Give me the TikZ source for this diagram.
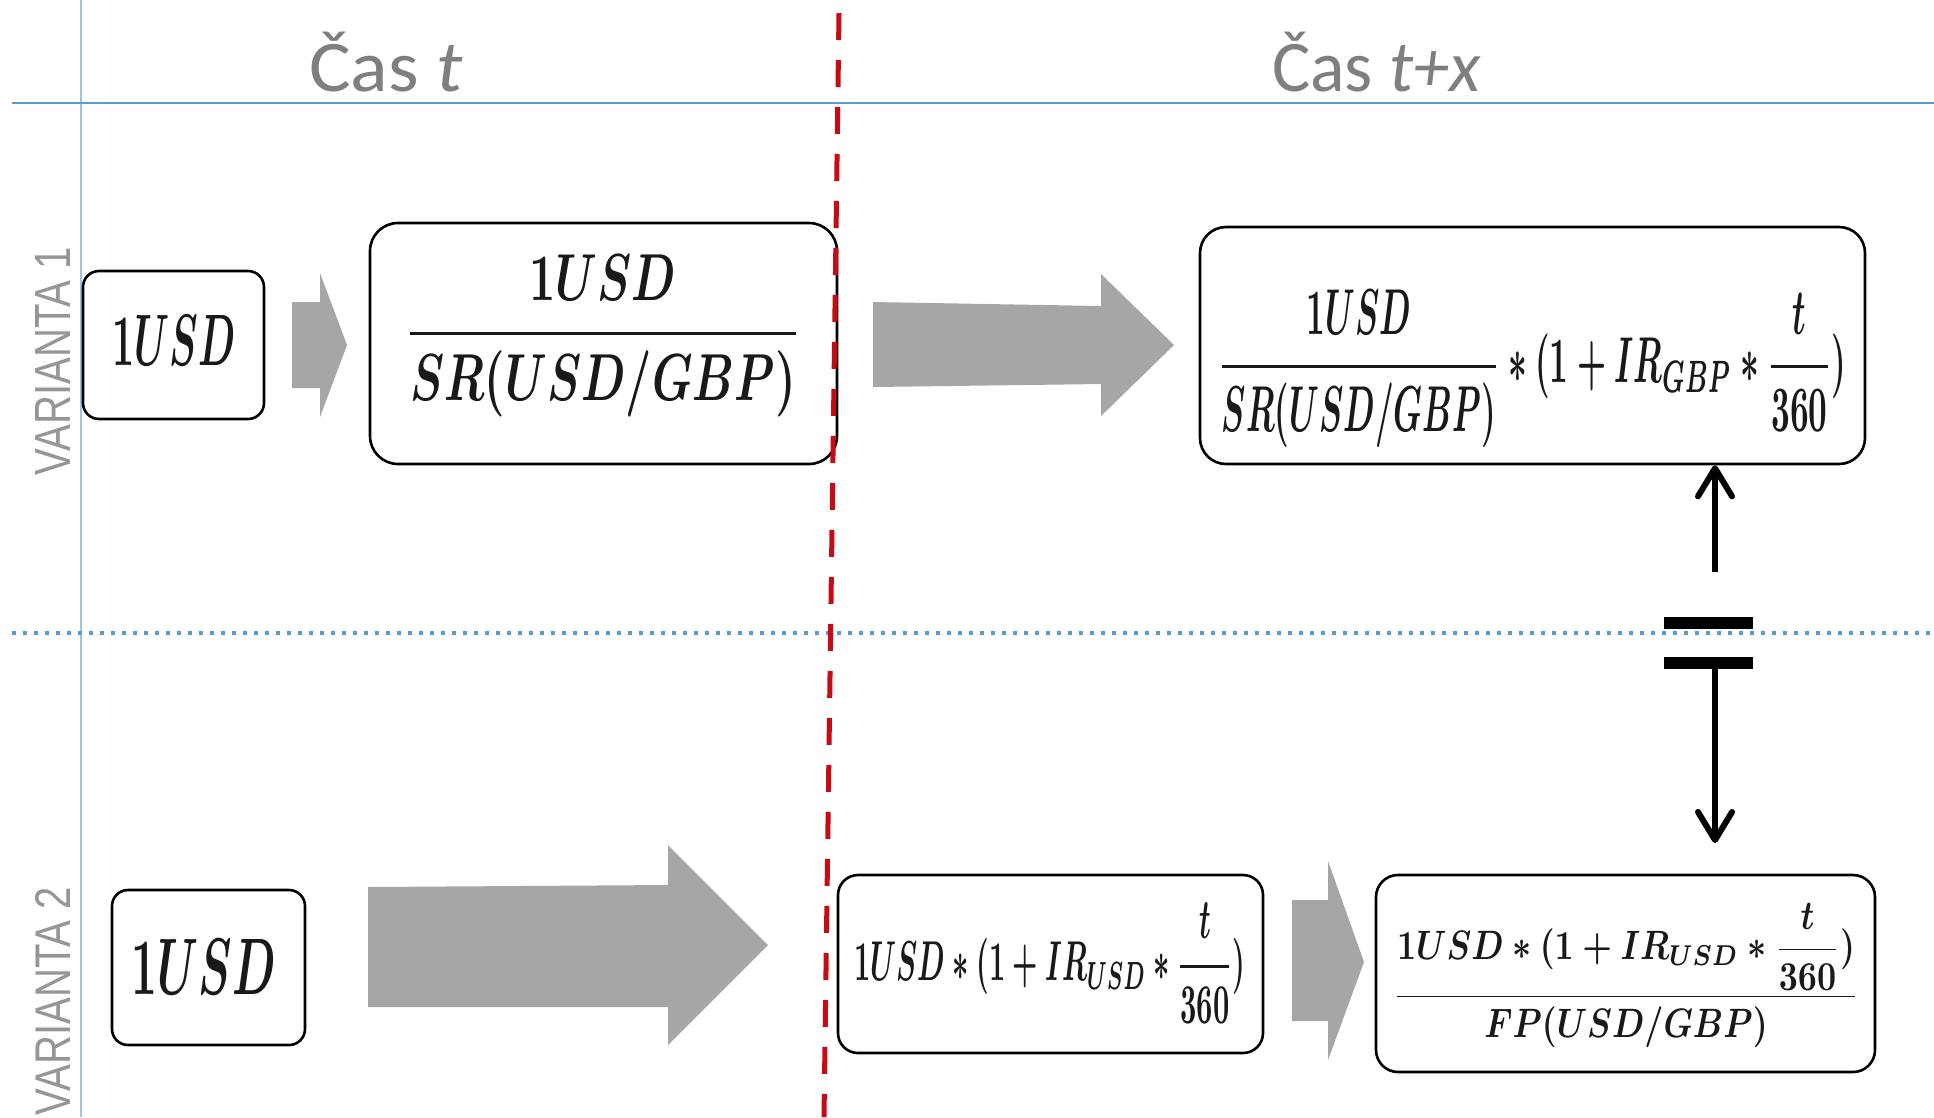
\documentclass[tikz,border=0pt]{standalone}
\usepackage{amsmath}
\usepackage{graphicx}
\usepackage{fontspec}
\newfontfamily\calib{Carlito}
\newfontfamily\arialf{Liberation Sans}
\usetikzlibrary{arrows.meta}
\newlength\pxu
\setlength\pxu{0.01cm}
\definecolor{axisblue}{RGB}{91,155,213}
\definecolor{lineblue}{RGB}{157,195,230}
\definecolor{cutred}{RGB}{200,10,20}
\definecolor{blockgray}{RGB}{166,166,166}
\definecolor{labelgray}{RGB}{127,127,127}
\definecolor{variantgray}{RGB}{150,150,150}
\definecolor{inkdark}{RGB}{25,25,25}
\begin{document}
\begin{tikzpicture}[x=0.01cm,y=-0.01cm,
  box/.style={draw=black, line width=2.6\pxu, rounded corners=20\pxu, fill=white, inner sep=0pt},
  formula/.style={inner sep=0pt, text=inkdark, font=\boldmath},
  heading/.style={inner sep=0pt, text=labelgray},
  variant/.style={inner sep=0pt, text=variantgray, rotate=90},
  blockarrow/.style={fill=blockgray},
  bar/.style={fill=black, inner sep=0pt, minimum width=89\pxu, minimum height=12\pxu},
  link/.style={line width=6\pxu, -{Straight Barb[length=0.28cm,width=0.34cm,round]}}]
\useasboundingbox (0,0) rectangle (1934,1117);
\fill[white] (0,0) rectangle (1934,1117);

% grid of the table
\draw[lineblue, line width=1.5\pxu] (81,0) -- (81,1117);
\draw[axisblue, line width=2\pxu] (12,102.5) -- (1934,102.5);
\draw[axisblue, line width=4\pxu, dash pattern=on 4.3\pxu off 6.7\pxu] (12,633) -- (1934,633);

% column headings
\node[heading] (tNow) at (386,62) {\resizebox*{154\pxu}{60\pxu}{\calib Čas \textit{t}}};
\node[heading] (tLater) at (1376.5,62) {\resizebox*{209\pxu}{60\pxu}{\calib Čas \textit{t+x}}};

% row labels
\node[variant] (v1) at (53,361) {\resizebox*{228\pxu}{35\pxu}{\arialf VARIANTA 1}};
\node[variant] (v2) at (53,1001) {\resizebox*{228\pxu}{35\pxu}{\arialf VARIANTA 2}};

% variant 1
\node[box, rounded corners=16\pxu, minimum width=181\pxu, minimum height=148\pxu] (boxA) at (173.5,345) {};
\node[formula] (fA) at (174,340) {\resizebox*{123\pxu}{50\pxu}{$1USD$}};
\node[box, rounded corners=28\pxu, minimum width=467\pxu, minimum height=241\pxu] (boxB) at (603.5,343.5) {};
\node[formula] (fB) at (603,336) {\resizebox*{396\pxu}{162\pxu}{$\dfrac{1USD}{SR(USD/GBP)}$}};
\node[box, rounded corners=26\pxu, minimum width=665\pxu, minimum height=237\pxu] (boxC) at (1532.5,345.5) {};
\node[formula] (fC) at (1532,369) {\resizebox*{628\pxu}{158\pxu}{$\dfrac{1USD}{SR(USD/GBP)}*(1+IR_{GBP}*\dfrac{t}{360})$}};

\fill[blockarrow] (292,302) -- (320,302) -- (320,273) -- (347,345) -- (320,417) -- (320,388) -- (292,388) -- cycle;
\fill[blockarrow] (873,302) -- (1101,306) -- (1101,274) -- (1174,345) -- (1101,416) -- (1101,384) -- (873,387) -- cycle;

% variant 2
\node[box, rounded corners=16\pxu, minimum width=193\pxu, minimum height=155\pxu] (boxD) at (208.5,967.5) {};
\node[formula] (fD) at (204,967) {\resizebox*{144\pxu}{55\pxu}{$1USD$}};
\node[box, minimum width=425\pxu, minimum height=178\pxu] (boxE) at (1050.5,964) {};
\node[formula] (fE) at (1050,963) {\resizebox*{391\pxu}{120\pxu}{$1USD*(1+IR_{USD}*\dfrac{t}{360})$}};
\node[box, rounded corners=22\pxu, minimum width=499\pxu, minimum height=197\pxu] (boxF) at (1625.5,973.5) {};
\node[formula] (fF) at (1626,975.5) {\resizebox*{466\pxu}{145\pxu}{$\dfrac{1USD*(1+IR_{USD}*\dfrac{t}{360})}{FP(USD/GBP)}$}};

\fill[blockarrow] (368,887) -- (668,885) -- (668,845) -- (768,945) -- (668,1045) -- (668,1007) -- (368,1007) -- cycle;
\fill[blockarrow] (1292,900) -- (1328,900) -- (1328,861) -- (1364,962) -- (1328,1060) -- (1328,1021) -- (1292,1021) -- cycle;

% comparison of both results
\node[bar] (barTop) at (1708.5,623) {};
\node[bar] (barBot) at (1708.5,663) {};
\coordinate (upStart) at (1715,572);
\coordinate (downEnd) at (1715,843);
\draw[link] (upStart) -- (boxC.south -| upStart);
\draw[link] (barBot.center -| downEnd) -- (downEnd);

% time cut between t and t+x
\draw[cutred, line width=5\pxu, dash pattern=on 27\pxu off 20\pxu] (839,13) -- (824,1117);
\end{tikzpicture}
\end{document}
